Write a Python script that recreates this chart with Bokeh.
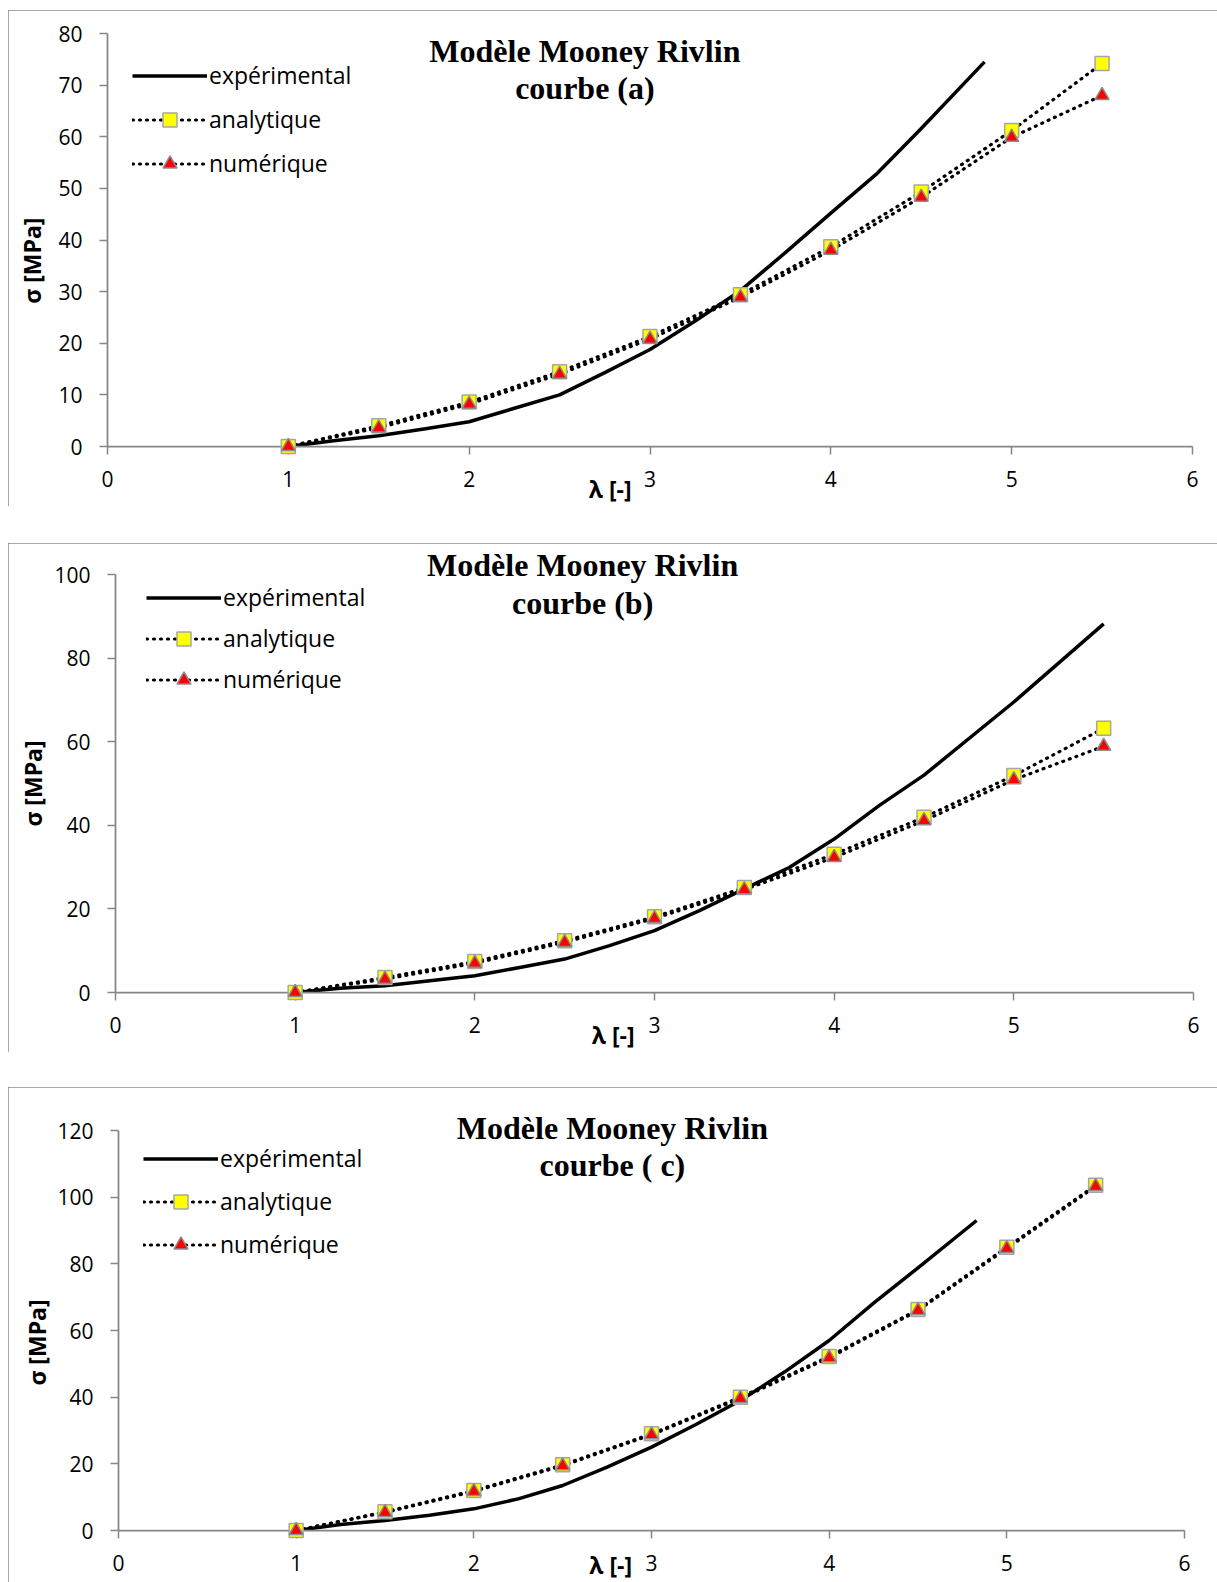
from bokeh.plotting import figure
from bokeh.models import Range1d, FixedTicker, Legend, LegendItem
from bokeh.core.properties import value
from bokeh.embed import file_html
from bokeh.resources import INLINE

# ---------------- data ----------------
lam_markers = [1, 1.5, 2, 2.5, 3, 3.5, 4, 4.5, 5, 5.5]

# courbe (a)
exp_a_lam = [1, 1.25, 1.5, 1.75, 2, 2.25, 2.5, 2.75, 3, 3.25, 3.5, 3.75, 4, 4.25, 4.5, 4.85]
exp_a_sig = [0, 1.1, 2.1, 3.4, 4.8, 7.4, 10.0, 14.3, 18.8, 24.3, 30.2, 37.6, 45.2, 52.7, 61.6, 74.5]
ana_a = [0, 4.0, 8.6, 14.5, 21.3, 29.4, 38.7, 49.3, 61.2, 74.2]
num_a = [0, 3.6, 8.2, 14.0, 20.8, 28.9, 38.0, 48.3, 59.9, 68.0]

# courbe (b)
exp_b_lam = [1, 1.25, 1.5, 1.75, 2, 2.25, 2.5, 2.75, 3, 3.25, 3.5, 3.75, 4, 4.25, 4.5, 5, 5.5]
exp_b_sig = [0, 1.0, 1.6, 2.8, 4.0, 6.0, 8.0, 11.2, 14.8, 19.6, 24.8, 29.9, 36.7, 44.7, 52.0, 69.5, 88.2]
ana_b = [0, 3.6, 7.4, 12.4, 18.1, 25.1, 33.1, 41.9, 51.9, 63.2]
num_b = [0, 3.2, 7.0, 12.0, 17.7, 24.6, 32.3, 41.1, 50.9, 58.9]

# courbe (c)
exp_c_lam = [1, 1.25, 1.5, 1.75, 2, 2.25, 2.5, 2.75, 3, 3.25, 3.5, 3.75, 4, 4.25, 4.5, 4.83]
exp_c_sig = [0, 1.8, 3.0, 4.6, 6.5, 9.5, 13.5, 19.0, 25.0, 31.8, 39.0, 47.6, 57.0, 68.2, 78.8, 93.0]
ana_c = [0, 5.6, 12.0, 19.7, 29.0, 40.0, 52.2, 66.3, 85.0, 103.6]
num_c = [0, 5.4, 11.7, 19.4, 28.7, 39.6, 51.8, 66.0, 84.6, 103.2]

x_ticks = [0, 1, 2, 3, 4, 5, 6]
y_ticks_a = [0, 10, 20, 30, 40, 50, 60, 70, 80]
y_ticks_b = [0, 20, 40, 60, 80, 100]
y_ticks_c = [0, 20, 40, 60, 80, 100, 120]

titles = ["courbe (a)", "courbe (b)", "courbe ( c)"]
title_main = "Modèle Mooney Rivlin"
series_names = ["expérimental", "analytique", "numérique"]
x_label = "λ [-]"
y_label = "σ [MPa]"

TICK_FONT = "Open Sans"
AXIS_GREY = "#868686"


def make_panel(exp_lam, exp_sig, ana, num, yticks, title2, geo):
    W, H = geo["W"], geo["H"]
    p = figure(width=W, height=H,
               x_range=Range1d(0, 6), y_range=Range1d(0, yticks[-1]),
               output_backend="svg", toolbar_location=None,
               min_border_left=geo["l"], min_border_right=geo["r"],
               min_border_top=geo["t"], min_border_bottom=geo["b"],
               margin=(geo["mt"], 0, 0, 8))
    p.styles = {"outline": "2px solid #8a8a8a", "outline-offset": "-2px"}
    p.xgrid.visible = False
    p.ygrid.visible = False
    p.outline_line_color = None
    p.background_fill_color = "white"
    p.border_fill_color = "white"

    for ax, ticks, standoff in ((p.xaxis, x_ticks, 16), (p.yaxis, yticks, 17)):
        ax.ticker = FixedTicker(ticks=ticks)
        ax.axis_line_color = AXIS_GREY
        ax.axis_line_width = 1.75
        ax.major_tick_line_color = AXIS_GREY
        ax.major_tick_line_width = 1.5
        ax.major_tick_out = 8
        ax.major_tick_in = 0
        ax.minor_tick_line_color = None
        ax.major_label_text_font = TICK_FONT
        ax.major_label_text_font_size = "21px"
        ax.major_label_text_color = "#000000"
        ax.major_label_standoff = standoff

    r_exp = p.line(exp_lam, exp_sig, line_color="black", line_width=3.5,
                   line_join="round")
    r_ana_l = p.line(lam_markers, ana, line_color="black", line_width=3.2,
                     line_dash="1 6", line_cap="round")
    r_num_l = p.line(lam_markers, num, line_color="black", line_width=3.2,
                     line_dash="1 6", line_cap="round")
    r_ana_m = p.scatter(lam_markers, ana, marker="square", size=14,
                        fill_color="#ffff00", line_color="#a6a6a6", line_width=1.5,
                        level="overlay")
    r_num_m = p.scatter(lam_markers, num, marker="triangle", size=14,
                        fill_color="#ff0000", line_color="#8c8c8c", line_width=1.5,
                        level="overlay")

    gh = 35
    sp = geo["lsp"]
    Hleg = 3 * gh + 2 * sp
    fh = H - geo["t"] - geo["b"]
    ly = fh - (geo["lrow1"] - gh / 2) - Hleg
    legend = Legend(items=[
        LegendItem(label=series_names[0], renderers=[r_exp]),
        LegendItem(label=series_names[1], renderers=[r_ana_l, r_ana_m]),
        LegendItem(label=series_names[2], renderers=[r_num_l, r_num_m]),
    ], location=(geo["lx"], ly))
    legend.glyph_width = 75
    legend.glyph_height = gh
    legend.label_height = 22
    legend.label_standoff = 2
    legend.spacing = sp
    legend.padding = 0
    legend.margin = 0
    legend.border_line_alpha = 0
    legend.background_fill_alpha = 0
    legend.label_text_font = TICK_FONT
    legend.label_text_font_size = "23px"
    legend.label_text_color = "black"
    p.add_layout(legend, "center")

    # chart title (two lines), drawn as unclipped text glyphs
    p.text(x=[geo["tx"], geo["tx"]], y=[geo["ty1"], geo["ty2"]],
           text=[title_main, title2], text_align="center", text_baseline="middle",
           text_font=value("Liberation Serif"), text_font_style="bold",
           text_font_size="32px", text_color="black", level="overlay")
    # axis titles
    p.text(x=[geo["xlx"]], y=[geo["xly"]], text=[x_label], text_align="center",
           text_baseline="middle", text_font=value(TICK_FONT), text_font_style="bold",
           text_font_size="23px", text_color="black", level="overlay")
    p.text(x=[geo["ylx"]], y=[geo["yly"]], text=[y_label], angle=1.5708,
           text_align="center", text_baseline="middle", text_font=value(TICK_FONT),
           text_font_style="bold", text_font_size="23px", text_color="black",
           level="overlay")
    return p


geo_a = dict(W=1209, H=496, l=99, r=25, t=23, b=60, mt=10,
             lx=25, lrow1=42, lsp=9,
             tx=2.64, ty1=76.7, ty2=69.4, xlx=2.78, xly=-8.2, ylx=-0.42, yly=36.0)
geo_b = dict(W=1209, H=509, l=107, r=24, t=31, b=60, mt=37,
             lx=31, lrow1=23, lsp=6,
             tx=2.60, ty1=102.2, ty2=93.1, xlx=2.77, xly=-10.2, ylx=-0.46, yly=50.0)
geo_c = dict(W=1209, H=495, l=110, r=33, t=43, b=52, mt=35,
             lx=25, lrow1=28, lsp=8,
             tx=2.78, ty1=120.9, ty2=109.8, xlx=2.77, xly=-10.4, ylx=-0.46, yly=56.4)

p1 = make_panel(exp_a_lam, exp_a_sig, ana_a, num_a, y_ticks_a, titles[0], geo_a)
p2 = make_panel(exp_b_lam, exp_b_sig, ana_b, num_b, y_ticks_b, titles[1], geo_b)
p3 = make_panel(exp_c_lam, exp_c_sig, ana_c, num_c, y_ticks_c, titles[2], geo_c)

open("out.html", "w").write(file_html([p1, p2, p3], INLINE))
